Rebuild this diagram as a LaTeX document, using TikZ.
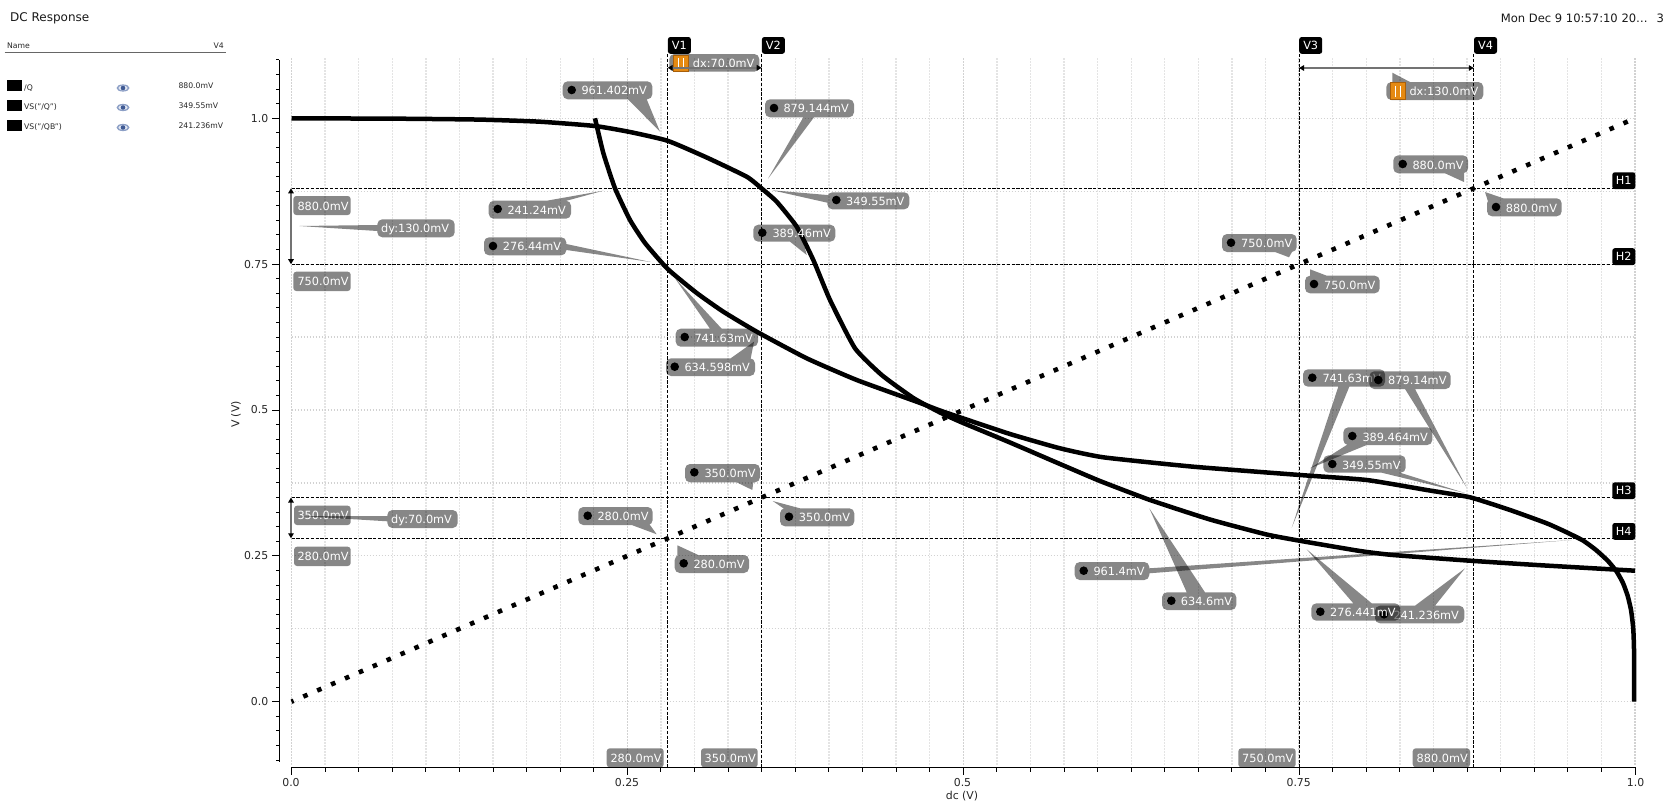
\documentclass[tikz,border=0pt]{standalone}
\usepackage{fontspec}
\setmainfont{DejaVu Sans}
\usetikzlibrary{arrows.meta}
\definecolor{gridminor}{HTML}{E4E4E4}
\definecolor{gridmajor}{HTML}{D2D2D2}
\definecolor{iconorange}{HTML}{E58A12}
\definecolor{icondark}{HTML}{A85F0A}
\definecolor{eyeblue}{HTML}{8C9FC6}
\definecolor{eyedark}{HTML}{3F5A94}
\tikzset{
  gridv/.style={gridminor,line width=1.3pt,dash pattern=on 1.5pt off 1.5pt},
  gridvmaj/.style={gridmajor,line width=1.3pt,dash pattern=on 1.5pt off 1.5pt},
  gridh/.style={gridmajor,line width=1.2pt,dash pattern=on 1.5pt off 1.5pt},
  cursorline/.style={black,line width=1pt,dash pattern=on 3.2pt off 1.6pt},
  trace/.style={black,line width=4.5pt,line join=round},
  dotted trace/.style={black,line width=4.6pt,dash pattern=on 4.6pt off 10.55pt,dash phase=2.3pt},
  axisline/.style={black,line width=1.2pt},
  tagfill/.style={fill=black,fill opacity=.47},
  tagtext/.style={anchor=west,inner sep=0pt,text=white,font=\fontsize{11.3}{13}\selectfont,text height=8.2pt,text depth=0pt},
  cursorlabel/.style={fill=black,text=white,rounded corners=2.5pt,inner sep=0pt,minimum width=23pt,minimum height=16.8pt,font=\fontsize{11.3}{13}\selectfont},
  ticklabel/.style={inner sep=0pt,font=\fontsize{10.9}{12}\selectfont,text=black!85},
  legendtext/.style={anchor=west,inner sep=0pt,font=\fontsize{7.7}{9}\selectfont,text=black!85},
  headertext/.style={anchor=west,inner sep=0pt,font=\fontsize{12}{14}\selectfont,text=black!90},
  measure/.style={black!55,line width=1.5pt,{Triangle[length=5pt,width=5.5pt,black]}-{Triangle[length=5pt,width=5.5pt,black]}},
}
\def\parseA#1,#2,#3,#4;{\def\xa{#1}\def\ya{#2}\def\xb{#3}\def\yb{#4}}
\def\parseB#1,#2,#3,#4,#5,#6;{\def\pax{#1}\def\pay{#2}\def\pbx{#3}\def\pby{#4}\def\ptx{#5}\def\pty{#6}}
% pill with a callout tail, one path so that the translucent fill does not double
\newcommand\TagShape[2]{%
  \parseA#1;\parseB#2;%
  \pgfmathsetmacro\la{veclen(\pax-\ptx,\pay-\pty)}%
  \pgfmathsetmacro\lb{veclen(\pbx-\ptx,\pby-\pty)}%
  \pgfmathsetmacro\qax{\pax+4*(\pax-\ptx)/\la}%
  \pgfmathsetmacro\qay{\pay+4*(\pay-\pty)/\la}%
  \pgfmathsetmacro\qbx{\pbx+4*(\pbx-\ptx)/\lb}%
  \pgfmathsetmacro\qby{\pby+4*(\pby-\pty)/\lb}%
  \pgfmathparse{((\qbx-\qax)/10*(\pty-\qay)/10-(\qby-\qay)/10*(\ptx-\qax)/10)>0?1:0}%
  \ifnum\pgfmathresult>0
    \fill[tagfill,rounded corners=5pt] (\xa,\ya)--(\xb,\ya)--(\xb,\yb)--(\xa,\yb)--cycle
      [sharp corners] (\qax,\qay)--(\qbx,\qby)--(\ptx,\pty)--cycle;
  \else
    \fill[tagfill,rounded corners=5pt] (\xa,\ya)--(\xb,\ya)--(\xb,\yb)--(\xa,\yb)--cycle
      [sharp corners] (\qbx,\qby)--(\qax,\qay)--(\ptx,\pty)--cycle;
  \fi
}
\newcommand\Pill[4]{\fill[tagfill,rounded corners=#4pt] (#1)--(#2|-#1)--(#2)--(#1|-#2)--cycle;}
\newcommand\Mark[2]{\fill[black] (#1,#2) circle (4.3);}
\newcommand\Eye[2]{%
  \fill[eyeblue] (#1,#2) ellipse (6.5 and 3.6);
  \fill[white!75!eyeblue] (#1,#2) ellipse (4.6 and 2.4);
  \fill[eyedark] (#1,#2) circle (2.3);
}
\newcommand\Icon[3]{%
  \fill[iconorange,draw=icondark,line width=.7pt] (#1,#2) rectangle (#1+15.5,#3);
  \fill[white] (#1+4.6,#2+3) rectangle (#1+5.8,#3-2);
  \fill[white] (#1+9.8,#2+3) rectangle (#1+11,#3-2);
}
\begin{document}
\begin{tikzpicture}[x=1pt,y=-1pt]
\useasboundingbox (0,0) rectangle (1667,806);
\fill[white] (0,0) rectangle (1667,806);

% ---- grid
\foreach \k in {0,...,40}{
  \pgfmathsetmacro\gx{291.5+33.5875*\k}
  \pgfmathtruncatemacro\m{mod(\k,10)}
  \ifnum\m=0
    \draw[gridvmaj] (\gx,58)--(\gx,766);
  \else
    \draw[gridv] (\gx,58)--(\gx,766);
  \fi
}
\foreach \k in {-0,...,8}{
  \pgfmathsetmacro\gy{701.7-72.925*\k}
  \draw[gridh] (291.5,\gy)--(1635,\gy);
}

% ---- axes
\coordinate (xa0) at (291.5,767.3);
\coordinate (xa1) at (1635.5,767.3);
\coordinate (ya0) at (279.3,60);
\coordinate (ya1) at (279.3,761.7);
\draw[axisline] (xa0)--(xa1);
\draw[axisline] (ya0)--(ya1);
\foreach \k in {0,...,40}{
  \pgfmathsetmacro\gx{291.5+33.5875*\k}
  \pgfmathtruncatemacro\m{mod(\k,10)}
  \ifnum\m=0
    \draw[black,line width=1pt] (\gx,767.3)--(\gx,775);
  \else
    \draw[black,line width=1pt] (\gx,767.3)--(\gx,771.5);
  \fi
}
\foreach \k in {-4,...,44}{
  \pgfmathsetmacro\gy{701.7-14.585*\k}
  \pgfmathtruncatemacro\m{mod(\k+40,10)}
  \ifnum\m=0
    \draw[black,line width=1pt] (272,\gy)--(279.3,\gy);
  \else
    \draw[black,line width=1pt] (276.3,\gy)--(279.3,\gy);
  \fi
}
\node[ticklabel] (xl0) at (291,783) {0.0};
\node[ticklabel] (xl1) at (627,783) {0.25};
\node[ticklabel] (xl2) at (962.5,783) {0.5};
\node[ticklabel] (xl3) at (1298.7,783) {0.75};
\node[ticklabel] (xl4) at (1635.5,783) {1.0};
\node[ticklabel,anchor=east] (yl0) at (268.5,701.7) {0.0};
\node[ticklabel,anchor=east] (yl1) at (268.5,555.9) {0.25};
\node[ticklabel,anchor=east] (yl2) at (268.5,410) {0.5};
\node[ticklabel,anchor=east] (yl3) at (268.5,264.2) {0.75};
\node[ticklabel,anchor=east] (yl4) at (268.5,118.3) {1.0};
\node[ticklabel,rotate=90] (ytitle) at (236,414.5) {V (V)};
\node[ticklabel] (xtitle) at (962,796.5) {dc (V)};

% ---- cursors
\foreach \n/\x in {v1/667.7,v2/761.7,v3/1299,v4/1473.8}{
  \coordinate (\n t) at (\x,54);
  \coordinate (\n b) at (\x,767);
  \draw[cursorline] (\n t)--(\n b);
}
\foreach \n/\y in {h1/188.3,h2/264.2,h3/497.5,h4/538.3}{
  \coordinate (\n l) at (291.5,\y);
  \coordinate (\n r) at (1635,\y);
  \draw[cursorline] (\n l)--(\n r);
}

% ---- traces
\draw[trace] plot[smooth,tension=.3] coordinates {(291.5,118.3)(400,118.7)(480,119.6)(540,121.7)(595,126)(630,132)(667.7,140.8)(706.7,157.5)(746.7,176.7)(761.7,188.5)(776.7,201.7)(796.7,226.7)(813.3,260)(830,300)(855,348.3)(881.7,375)(913.3,398)(940,412.5)(962,422.5)(1010,442.5)(1060,464)(1100,481)(1150,500)(1210,519.5)(1266.7,534.5)(1300,540.8)(1360,551)(1393,555)(1470,560.7)(1536.7,565)(1635,570.7)};
\draw[trace] plot[smooth,tension=.3] coordinates {(595,118.3)(603.3,153)(615,188.3)(630,220)(645,243)(667.7,269)(696.7,293)(723.3,311.7)(756.7,331.7)(806.7,358.3)(856.7,380)(916.7,401.7)(940,410.5)(962,418)(1010,434)(1060,448.3)(1103.3,457.3)(1193.3,466.7)(1300,475)(1366.7,480)(1426.7,490)(1470,497.3)(1510,510)(1546.7,523.3)(1566,532)(1583,540.5)(1596,550)(1608,561)(1616.7,571.7)(1623,583)(1627.7,596)(1631,610)(1633.2,628)(1634,650)(1634,701.7)};
\coordinate (ds) at (291.5,701.7);
\coordinate (de) at (1635,118.3);
\draw[dotted trace] (ds)--(de);

% ---- measurement tags
\Pill{669.3,54}{759.3,71.7}{0}{5}
\TagShape{562.7,81.3,652.3,99.3}{628,99.3,646.7,99.3,660,131.7}
\Mark{571.7}{90}\node[tagtext] (t01) at (581.3,90.8) {961.402mV};
\TagShape{765,99.3,854,117.3}{803.3,117.3,814,117.3,768,178.7}
\Mark{774}{108}\node[tagtext] (t02) at (783.3,108.8) {879.144mV};
\TagShape{827.3,192.3,909.3,209.3}{827.3,195,827.3,202.7,772.3,190.3}
\Mark{836.3}{200}\node[tagtext] (t03) at (846,201.3) {349.55mV};
\TagShape{753.3,224.7,835.3,241.7}{790,241.7,803.3,241.7,806.7,255}
\Mark{762.3}{232.7}\node[tagtext] (t04) at (772.3,233.7) {389.46mV};
\TagShape{488.7,200.7,571,218.7}{546.7,200.7,566.7,200.7,603.3,190.7}
\Mark{497.7}{209}\node[tagtext] (t05) at (507.3,210.2) {241.24mV};
\TagShape{484,237.3,566.3,255.3}{566.3,244,566.3,250,650.7,262}
\Mark{493}{246}\node[tagtext] (t06) at (502.7,246.8) {276.44mV};
\TagShape{675.7,328.7,758,346.7}{710,328.7,721.7,328.7,675,278.3}
\Mark{684.7}{337}\node[tagtext] (t07) at (694.3,338.2) {741.63mV};
\TagShape{666,358.3,755,376}{730.7,358.3,750.7,358.3,754,341.7}
\Mark{674.7}{366.7}\node[tagtext] (t08) at (684.3,367.7) {634.598mV};
\TagShape{578.3,507,652.7,525}{631.7,525,650,525,656.7,534.3}
\Mark{587.7}{515.7}\node[tagtext] (t09) at (597.3,516.5) {280.0mV};
\TagShape{674.7,555,749,573}{677.3,555,698.3,555,677.3,545.3}
\Mark{683.7}{563.3}\node[tagtext] (t10) at (693.3,564.5) {280.0mV};
\TagShape{685,464,760,482.3}{736.7,482.3,753.3,482.3,752.3,490}
\Mark{694.3}{472.3}\node[tagtext] (t11) at (704.3,473.5) {350.0mV};
\TagShape{780,508.3,854.3,526.3}{783.3,508.3,800,508.3,772.7,501}
\Mark{789}{516.7}\node[tagtext] (t12) at (798.7,517.8) {350.0mV};
\TagShape{1393.3,155.3,1468,173.3}{1445,173.3,1464,173.3,1464,182}
\Mark{1402.7}{164}\node[tagtext] (t13) at (1412.3,165) {880.0mV};
\TagShape{1487,198.3,1561.7,216.3}{1487,198.3,1503.3,198.3,1485,192}
\Mark{1496}{207}\node[tagtext] (t14) at (1505.7,208) {880.0mV};
\TagShape{1222,234,1296.7,252}{1275,252,1292,252,1289,257.3}
\Mark{1231}{242.7}\node[tagtext] (t15) at (1241,243.7) {750.0mV};
\TagShape{1305,275.7,1379.7,293.3}{1310,275.7,1326.7,275.7,1310,269.3}
\Mark{1314}{284}\node[tagtext] (t16) at (1324,285.2) {750.0mV};
\TagShape{1386.3,82,1483.3,100}{1392.3,82,1410,82,1392.3,72.7}
\Icon{1390}{82.7}{99}
\node[tagtext] (t17) at (1409.3,91.5) {dx:130.0mV};
\TagShape{1303,369.3,1385,386.7}{1338.3,386.7,1349.3,386.7,1291.7,527.7}
\Mark{1312.3}{377.7}\node[tagtext] (t18) at (1322.3,378.5) {741.63mV};
\TagShape{1369.3,371.3,1450.7,389}{1405,389,1415,389,1466.7,487.7}
\Mark{1378.3}{380}\node[tagtext] (t19) at (1388,380.7) {879.14mV};
\TagShape{1343.3,427.3,1432.3,445}{1346.7,445,1366.7,445,1310,468.3}
\Mark{1352.3}{436}\node[tagtext] (t20) at (1362.3,437) {389.464mV};
\TagShape{1323.3,455.3,1405.7,472.7}{1381.7,472.7,1400,472.7,1465,493}
\Mark{1332.3}{464}\node[tagtext] (t21) at (1342,465) {349.55mV};
\TagShape{1074.7,562,1149.3,580}{1149.3,568.3,1149.3,573.3,1571.7,540}
\Mark{1083.7}{570.7}\node[tagtext] (t22) at (1093.3,571.7) {961.4mV};
\TagShape{1162,592.3,1236.3,610}{1186.7,592.3,1205,592.3,1149.3,508.3}
\Mark{1171.3}{600.7}\node[tagtext] (t23) at (1180.7,601.7) {634.6mV};
\TagShape{1375,605.7,1464.3,623.3}{1415,605.7,1435,605.7,1465,568.3}
\Mark{1384}{614.3}\node[tagtext] (t25) at (1393.3,615.3) {241.236mV};
\TagShape{1311.3,603.3,1400,620.7}{1353.3,603.3,1371.7,603.3,1306.7,549.3}
\Mark{1320.3}{611.7}\node[tagtext] (t24) at (1330,612.5) {276.441mV};

% ---- axis value tags
\Pill{293.3,196}{350.7,215}{0}{3}
\node[tagtext] (a1) at (297.3,206) {880.0mV};
\Pill{293.3,271.7}{350.7,291}{0}{3}
\node[tagtext] (a2) at (297.3,281.6) {750.0mV};
\Pill{294,505.7}{350.7,525}{0}{3}
\node[tagtext] (a3) at (297.3,515.8) {350.0mV};
\Pill{294,546.7}{350.7,566}{0}{3}
\node[tagtext] (a4) at (297.3,556.8) {280.0mV};
\Pill{606.7,748.3}{663.7,767.3}{0}{3}
\node[tagtext] (a5) at (610.3,758.2) {280.0mV};
\Pill{701,748.3}{757.7,767.3}{0}{3}
\node[tagtext] (a6) at (704.5,758.2) {350.0mV};
\Pill{1238.3,748.3}{1295.7,767.3}{0}{3}
\node[tagtext] (a7) at (1242,758.2) {750.0mV};
\Pill{1412.7,748.3}{1470,767.3}{0}{3}
\node[tagtext] (a8) at (1416.5,758.2) {880.0mV};

\TagShape{377.3,219.3,454.7,237.3}{377.3,225,377.3,231,299.3,226}
\node[tagtext] (d1) at (381,228.7) {dy:130.0mV};
\TagShape{387.3,510,457.7,528}{387.3,516,387.3,521.3,300,516}
\node[tagtext] (d2) at (391,519.7) {dy:70.0mV};

\Icon{673.3}{55}{71}
\node[tagtext] (d3) at (692.7,63.5) {dx:70.0mV};

% ---- delta arrows
\coordinate (dyA) at (291,188.3);
\coordinate (dyB) at (291,264.2);
\coordinate (dyC) at (291,497.5);
\coordinate (dyD) at (291,538.3);
\coordinate (dxA) at (667.7,67.8);
\coordinate (dxB) at (761.7,67.8);
\coordinate (dxC) at (1299,68);
\coordinate (dxD) at (1473.8,68);
\draw[measure] (dyA)--(dyB);
\draw[measure] (dyC)--(dyD);
\draw[measure] (dxA)--(dxB);
\draw[measure] (dxC)--(dxD);

% ---- cursor labels
\node[cursorlabel,anchor=south west] (lv1) at (667.7,54) {V1};
\node[cursorlabel,anchor=south west] (lv2) at (761.7,54) {V2};
\node[cursorlabel,anchor=south west] (lv3) at (1299,54) {V3};
\node[cursorlabel,anchor=south west] (lv4) at (1473.8,54) {V4};
\node[cursorlabel,anchor=south east] (lh1) at (1635.5,189.3) {H1};
\node[cursorlabel,anchor=south east] (lh2) at (1635.5,265.2) {H2};
\node[cursorlabel,anchor=south east] (lh3) at (1635.5,499.3) {H3};
\node[cursorlabel,anchor=south east] (lh4) at (1635.5,540) {H4};

% ---- header and legend
\node[headertext] (title) at (10,18) {DC Response};
\node[headertext,font=\fontsize{11.55}{14}\selectfont] (stamp) at (1500.7,18) {Mon Dec 9 10:57:10 20…};
\node[headertext,font=\fontsize{11.55}{14}\selectfont] (page) at (1656.5,18) {3};
\node[legendtext] (lname) at (7,45.5) {Name};
\node[legendtext,anchor=east] (lv) at (224,45.5) {V4};
\draw[black!60,line width=1.4pt] (4.5,52.7)--(225.5,52.7);
\fill[black] (7,80) rectangle (22,91);
\fill[black] (7,100) rectangle (22,111);
\fill[black] (7,120) rectangle (22,131);
\node[legendtext] (n1) at (24,88) {/Q};
\node[legendtext] (n2) at (24,107.5) {VS("/Q")};
\node[legendtext] (n3) at (24,127.5) {VS("/QB")};
\Eye{123}{88}
\Eye{123}{107.5}
\Eye{123}{127.5}
\node[legendtext] (w1) at (178.3,85.5) {880.0mV};
\node[legendtext] (w2) at (178.3,105.5) {349.55mV};
\node[legendtext] (w3) at (178.3,126) {241.236mV};
\end{tikzpicture}
\end{document}
